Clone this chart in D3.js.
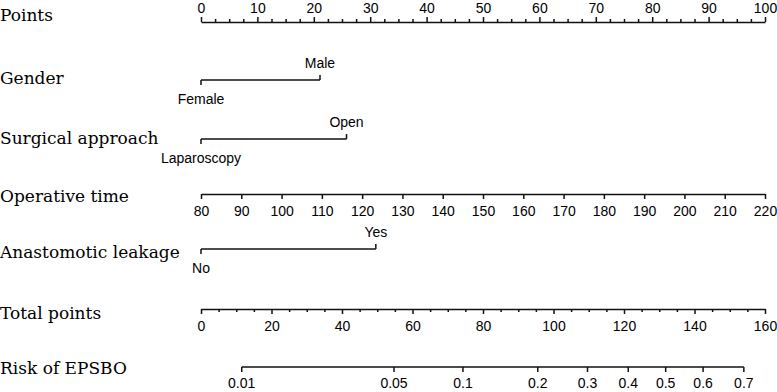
<!DOCTYPE html>
<html>
<head>
<meta charset="utf-8">
<script src="https://cdn.jsdelivr.net/npm/d3@7"></script>
<style>
  body { margin: 0; background: #fff; }
  .lbl { font-family: "DejaVu Serif", serif; font-size: 17px; fill: #000; }
  .tick text, .cat { font-family: "Liberation Sans", Arial, sans-serif; font-size: 14px; fill: #000; }
  .domain, .tick line, .seg { stroke: #111; stroke-width: 1.5; }
</style>
</head>
<body>
<svg id="chart" width="777" height="392"></svg>
<script>
// row names
const rowLabels = ["Points", "Gender", "Surgical approach", "Operative time", "Anastomotic leakage", "Total points", "Risk of EPSBO"];

// points scale
const pointsTicks = [0, 10, 20, 30, 40, 50, 60, 70, 80, 90, 100];
const pointsMinor = d3.range(0, 100.1, 2.5);

// categorical predictors (level, points)
const genderLevels = ["Female", "Male"];
const genderPoints = [0, 21.1];
const approachLevels = ["Laparoscopy", "Open"];
const approachPoints = [0, 25.8];
const leakLevels = ["No", "Yes"];
const leakPoints = [0, 31.0];

// operative time: 80 -> 0 points, 220 -> 100 points
const opTimeTicks = [80, 90, 100, 110, 120, 130, 140, 150, 160, 170, 180, 190, 200, 210, 220];
const opTimeRange = [80, 220];

// total points
const totalTicks = [0, 20, 40, 60, 80, 100, 120, 140, 160];
const totalMinor = d3.range(0, 160.1, 5);

// risk (probability) against total points
const riskTicks = [0.01, 0.05, 0.1, 0.2, 0.3, 0.4, 0.5, 0.6, 0.7];
const riskTickLabels = ["0.01", "0.05", "0.1", "0.2", "0.3", "0.4", "0.5", "0.6", "0.7"];
const riskEnds = [0.01, 0.7];
const riskEndTotals = [11.55, 154.0];

const svg = d3.select("#chart");
const x0 = 201, x1 = 765;

const pts = d3.scaleLinear().domain([0, 100]).range([x0, x1]);
const opScale = d3.scaleLinear().domain(opTimeRange).range([x0, x1]);
const totScale = d3.scaleLinear().domain([0, 160]).range([x0, x1]);
const logit = p => Math.log(p / (1 - p));
const riskLin = d3.scaleLinear().domain(riskEnds.map(logit)).range(riskEndTotals.map(totScale));
const riskScale = p => riskLin(logit(p));

// row layout
const lineY = [22, 80, 139, 194, 249, 309, 367];
const labelY = [21, 84, 144, 202, 258, 319, 374];

svg.selectAll("text.lbl").data(rowLabels).join("text")
  .attr("class", "lbl")
  .attr("x", 0)
  .attr("y", (d, i) => labelY[i])
  .text(d => d);

function drawAxis(scale, y, majors, minors, top) {
  const ax = (top ? d3.axisTop(scale) : d3.axisBottom(scale))
    .tickValues(majors).tickSize(5).tickSizeOuter(0).tickPadding(top ? 4 : 7);
  const g = svg.append("g").attr("transform", `translate(0,${y})`).call(ax);
  g.attr("font-size", null).attr("font-family", null);
  if (minors) {
    const mg = svg.append("g").attr("transform", `translate(0,${y})`)
      .call((top ? d3.axisTop(scale) : d3.axisBottom(scale))
        .tickValues(minors.filter(v => !majors.includes(v))).tickSize(3).tickSizeOuter(0).tickFormat(""));
    mg.select(".domain").remove();
  }
  return g;
}

drawAxis(pts, lineY[0], pointsTicks, pointsMinor, true);
drawAxis(opScale, lineY[3], opTimeTicks, null, false);
drawAxis(totScale, lineY[5], totalTicks, totalMinor, false);

// risk axis built on logit scale
const riskG = svg.append("g").attr("transform", `translate(0,${lineY[6]})`);
riskG.append("line").attr("class", "seg")
  .attr("x1", riskScale(riskEnds[0])).attr("x2", riskScale(riskEnds[1]));
riskG.selectAll("line.rt").data(riskTicks).join("line")
  .attr("class", "seg rt")
  .attr("x1", d => riskScale(d)).attr("x2", d => riskScale(d))
  .attr("y1", 0).attr("y2", 5);
riskG.selectAll("text").data(riskTicks).join("text")
  .attr("class", "cat")
  .attr("x", d => riskScale(d)).attr("y", 21)
  .attr("text-anchor", "middle")
  .text((d, i) => riskTickLabels[i]);

// categorical rows
function drawCat(levels, values, y) {
  const g = svg.append("g").attr("transform", `translate(0,${y})`);
  g.append("line").attr("class", "seg")
    .attr("x1", pts(d3.min(values))).attr("x2", pts(d3.max(values)));
  const dir = values.map((v, i) => i % 2 === 0 ? 1 : -1);
  g.selectAll("line.ct").data(values).join("line")
    .attr("class", "seg ct")
    .attr("x1", d => pts(d)).attr("x2", d => pts(d))
    .attr("y1", 0).attr("y2", (d, i) => dir[i] * 5);
  g.selectAll("text").data(levels).join("text")
    .attr("class", "cat")
    .attr("x", (d, i) => pts(values[i]))
    .attr("y", (d, i) => dir[i] > 0 ? 24 : -12)
    .attr("text-anchor", "middle")
    .text(d => d);
}

drawCat(genderLevels, genderPoints, lineY[1]);
drawCat(approachLevels, approachPoints, lineY[2]);
drawCat(leakLevels, leakPoints, lineY[4]);
</script>
</body>
</html>
